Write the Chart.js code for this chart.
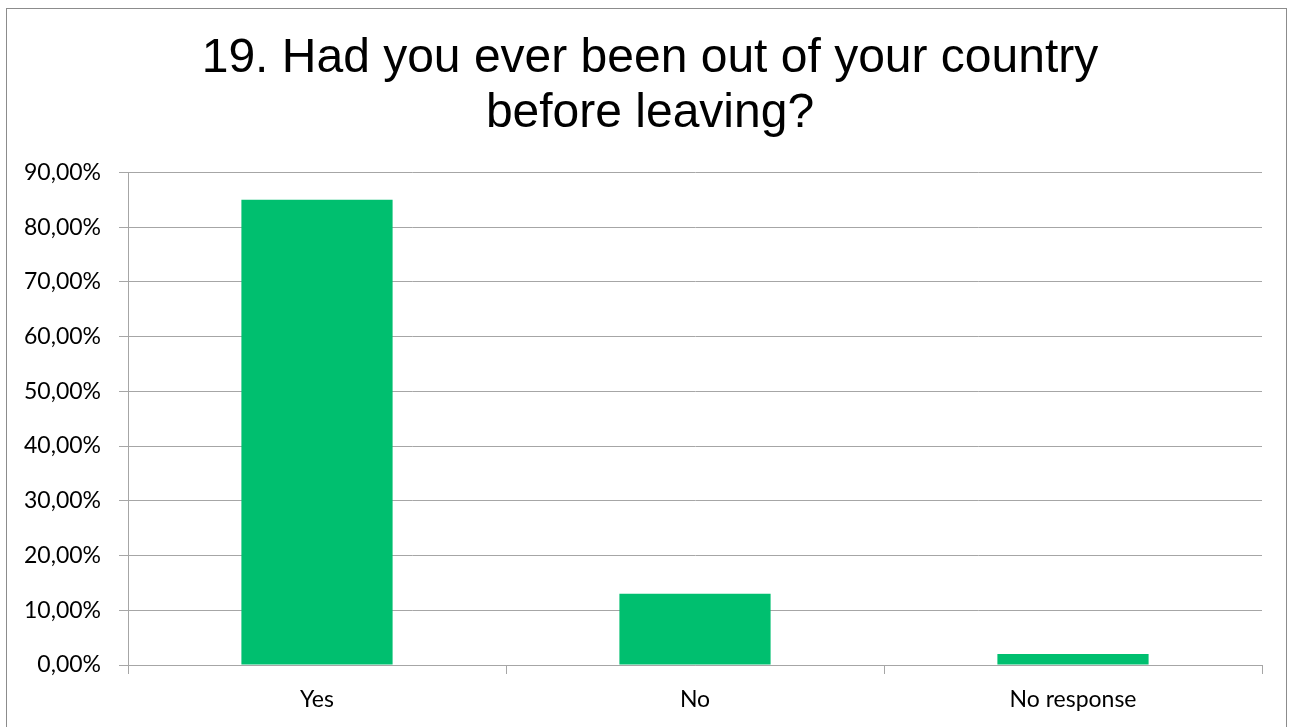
<!DOCTYPE html>
<html>
<head>
<meta charset="utf-8">
<title>19. Had you ever been out of your country before leaving?</title>
<script src="https://cdn.jsdelivr.net/npm/chart.js@4/dist/chart.umd.min.js"></script>
<style>
  html, body { margin: 0; padding: 0; background: #ffffff; overflow: hidden; }
  #frame {
    position: absolute; left: 6px; top: 8px; width: 1281px; height: 760px;
    border: 1px solid #8c8c8c; box-sizing: border-box;
  }
  #chart { position: absolute; left: 0; top: 0; }
</style>
</head>
<body>
<div id="frame"></div>
<canvas id="chart" width="1292" height="727"></canvas>
<script>
// Survey answers and their share of respondents (percent)
const titleLines = ['19. Had you ever been out of your country', 'before leaving?'];
const categories = ['Yes', 'No', 'No response'];
const shares = [85, 13, 2];
const yMin = 0;
const yMax = 90;
const yStep = 10;

const axisFont = { family: 'Lato, "Open Sans", sans-serif', size: 23 };
const gridGrey = '#a6a6a6';

// Percent label with a decimal comma, e.g. 10,00%
const percentLabel = v => Number(v).toFixed(2).replace('.', ',') + '%';

// Centre the title over the whole framed area rather than the padded layout box
const titleOverFrame = {
  id: 'titleOverFrame',
  afterLayout(chart) {
    const t = chart.titleBlock;
    if (t) { t.left = 8; t.right = chart.width; }
  }
};

new Chart(document.getElementById('chart'), {
  type: 'bar',
  data: {
    labels: categories,
    datasets: [{
      data: shares,
      backgroundColor: '#00bf6f',
      borderWidth: 0,
      barPercentage: 0.4,
      categoryPercentage: 1.0
    }]
  },
  plugins: [titleOverFrame],
  options: {
    responsive: false,
    animation: false,
    layout: { padding: { left: 0, right: 30, top: 0, bottom: 0 } },
    plugins: {
      legend: { display: false },
      tooltip: { enabled: false },
      title: {
        display: true,
        text: titleLines,
        color: '#000000',
        font: { family: '"Liberation Sans", Arial, sans-serif', size: 48, weight: 'normal', lineHeight: 1.15 },
        padding: { top: 31, bottom: 31 }
      }
    },
    scales: {
      x: {
        grid: {
          display: true,
          drawOnChartArea: false,
          drawTicks: true,
          tickLength: 9,
          offset: true,
          color: gridGrey
        },
        border: { display: true, color: gridGrey },
        ticks: { color: '#000000', font: axisFont, padding: 12, maxRotation: 0 },
        afterFit: scale => { scale.height = 62; }
      },
      y: {
        min: yMin,
        max: yMax,
        grid: { color: gridGrey, tickLength: 9, lineWidth: 1 },
        border: { display: true, color: gridGrey },
        ticks: {
          stepSize: yStep,
          color: '#000000',
          font: axisFont,
          padding: 18,
          callback: v => percentLabel(v)
        },
        afterFit: scale => { scale.width = 128; }
      }
    }
  }
});
</script>
</body>
</html>
